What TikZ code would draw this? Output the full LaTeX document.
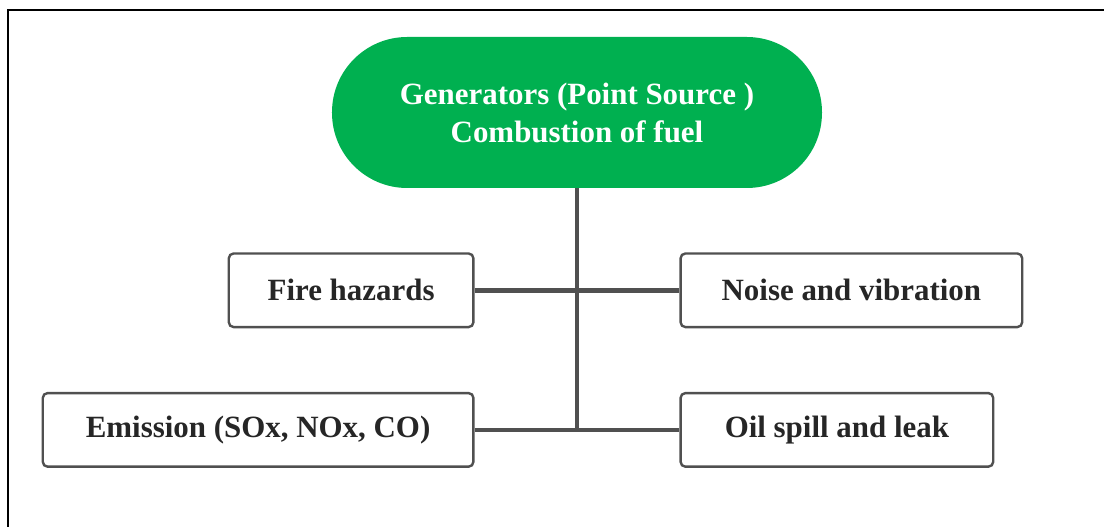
\documentclass[tikz,border=0pt]{standalone}
\usepackage{fontspec}
\setmainfont{Liberation Serif}
\usetikzlibrary{positioning}
\definecolor{sourcegreen}{HTML}{00B050}
\definecolor{edgegray}{HTML}{505050}

\begin{document}
\begin{tikzpicture}[
			node distance=1.6cm and 2.56cm,
			source/.style={rectangle, fill=sourcegreen, text=white, minimum width=12.25cm, minimum height=3.775cm, rounded corners=1.88cm, align=center, inner sep=0pt},
			impact/.style={rectangle, draw=edgegray, line width=0.06cm, rounded corners=0.12cm, minimum height=1.84cm, text=black!85, inner sep=0pt},
			link/.style={draw=edgegray, line width=0.115cm},
			font=\fontsize{22}{27}\selectfont\bfseries
			]
			
			\useasboundingbox (-14.425,-10.3625) rectangle (13.175,2.8125);
			% Frame (only top and left edges show)
			\draw[line width=0.05cm] (-14.225,-11) -- (-14.225,2.5625) -- (14,2.5625);
			
			% Nodes
			\node[source] (gen) {Generators (Point Source )\\Combustion of fuel};
			
			\node[impact, minimum width=6.115cm, below left=of gen.south] (fire) {Fire hazards};
			\node[impact, minimum width=8.54cm, below right=of gen.south] (noise) {Noise and vibration};
			
			\node[impact, minimum width=10.765cm, below left=1.59cm and 0cm of fire.south east] (emis) {Emission (SOx, NOx, CO)};
			\node[impact, minimum width=7.815cm, below right=1.59cm and 0cm of noise.south west] (oil) {Oil spill and leak};
			
			% Links
			\draw[link] (gen.south) -- (gen.south |- emis.east);
			\draw[link] (fire.east) -- (noise.west);
			\draw[link] (emis.east) -- (oil.west);
			
		\end{tikzpicture}
\end{document}
